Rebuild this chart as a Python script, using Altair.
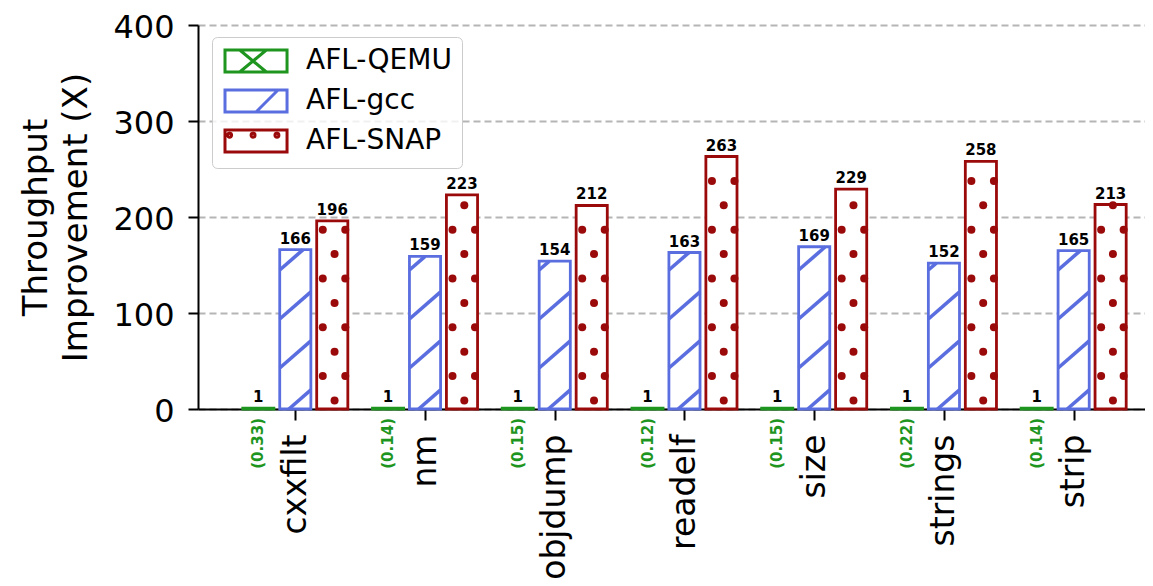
import json
import altair as alt
import pandas as pd

# ---------------- data ----------------
programs = ["cxxfilt", "nm", "objdump", "readelf", "size", "strings", "strip"]
series = ["AFL-QEMU", "AFL-gcc", "AFL-SNAP"]
qemu = [1, 1, 1, 1, 1, 1, 1]
gcc = [166, 159, 154, 163, 169, 152, 165]
snap = [196, 223, 212, 263, 229, 258, 213]
qemu_raw = ["(0.33)", "(0.14)", "(0.15)", "(0.12)", "(0.15)", "(0.22)", "(0.14)"]

# ---------------- style / layout ----------------
colors = ["#1e951e", "#5b6ee0", "#9b0a0a"]
offsets = [-0.285, 0.0, 0.285]
BAR_W = 0.24
W, H = 947, 384
X_DOM = [-0.75, 6.55]
Y_DOM = [0, 400]
PX_X = W / (X_DOM[1] - X_DOM[0])
PX_Y = H / (Y_DOM[1] - Y_DOM[0])
FONT = "DejaVu Sans"

values = {"AFL-QEMU": qemu, "AFL-gcc": gcc, "AFL-SNAP": snap}

bar_rows = []
for s_i, s in enumerate(series):
    for i, p in enumerate(programs):
        v = values[s][i]
        c = i + offsets[s_i]
        bar_rows.append(dict(program=p, series=s, value=v, base=0, cx=c,
                             x1=c - BAR_W / 2, x2=c + BAR_W / 2,
                             label=str(v)))
bars = pd.DataFrame(bar_rows)

# hatch lines for AFL-gcc ("/" pattern)
SLOPE, SPACING, START = 0.87, 49.0, -8.0
hatch_rows = []
for i, v in enumerate(gcc):
    left = i + offsets[1] - BAR_W / 2
    wpx = BAR_W * PX_X
    hpx = v * PX_Y
    k = 0
    while START + SPACING * k < hpx:
        c = START + SPACING * k
        xs_ = max(0.0, -c / SLOPE)
        xe_ = min(wpx, (hpx - c) / SLOPE)
        if xs_ < xe_:
            hatch_rows.append(dict(hx=left + xs_ / PX_X, hx2=left + xe_ / PX_X,
                                   hy=(c + SLOPE * xs_) / PX_Y,
                                   hy2=(c + SLOPE * xe_) / PX_Y))
        k += 1
hatch = pd.DataFrame(hatch_rows)

# dot pattern for AFL-SNAP
dot_rows = []
for i, v in enumerate(snap):
    cx = i + offsets[2]
    hpx = v * PX_Y
    k = 0
    while 8.5 + 24.4 * k < hpx:
        ypx = 8.5 + 24.4 * k
        xs = [2.3] if k % 2 == 0 else [-9.5, 13.0]
        for dx in xs:
            dot_rows.append(dict(dx=cx + dx / PX_X, dy=ypx / PX_Y))
        k += 1
dots = pd.DataFrame(dot_rows)

raw = pd.DataFrame(dict(cx=[i + offsets[0] for i in range(len(programs))],
                        zero=[0] * len(programs), text=qemu_raw))

# ---------------- scales ----------------
xs = alt.Scale(domain=X_DOM, nice=False, zero=False, padding=0)
ys = alt.Scale(domain=Y_DOM, nice=False, padding=0)
cscale = alt.Scale(domain=series, range=colors)
rect = "M-1,-1H4.64V1H-1Z"
def circ(x, y, r=0.18):
    return f"M{x - r},{y}a{r},{r} 0 1,0 {2 * r},0a{r},{r} 0 1,0 {-2 * r},0"
shapes = [
    rect + "M0.34,-1L2.76,1M0.34,1L2.76,-1",
    rect + "M1.82,1L3.82,-1",
    rect + circ(-0.58, -0.53) + circ(1.55, -0.53) + circ(3.72, -0.53),
]
sscale = alt.Scale(domain=series, range=shapes)

leg = alt.Legend(title=None, orient="none", legendX=14, legendY=12,
                 labelFont=FONT, labelFontSize=28, labelColor="black",
                 symbolSize=484, symbolStrokeWidth=3, symbolOpacity=1,
                 symbolFillColor="white",
                 padding=10, rowPadding=6, labelOffset=56,
                 strokeColor="#cccccc", fillColor="rgba(255,255,255,0.8)",
                 cornerRadius=5)

x_axis = alt.Axis(values=list(range(len(programs))),
                  labelExpr=json.dumps(programs) + "[datum.value]",
                  labelAngle=270, labelFont=FONT, labelFontSize=33,
                  labelColor="black", labelPadding=14, tickSize=11,
                  tickWidth=2, tickColor="black", domainColor="black",
                  domainWidth=2, grid=False, title=None)
y_axis = alt.Axis(values=[0, 100, 200, 300, 400],
                  title=["Throughput", "Improvement (X)"],
                  titleFont=FONT, titleFontSize=34, titleFontWeight="normal",
                  titleColor="black", titleLineHeight=40, titlePadding=19,
                  labelFont=FONT, labelFontSize=32, labelColor="black",
                  labelPadding=14, labelOffset=2, tickSize=10, tickWidth=2,
                  tickColor="black", domainColor="black", domainWidth=2,
                  grid=True, gridColor="#b5b5b5", gridDash=[7, 4],
                  gridWidth=1.8)

X = alt.X("x1:Q", scale=xs, axis=x_axis)
Y = alt.Y("value:Q", scale=ys, axis=y_axis)

base_fill = alt.Chart(bars).mark_bar(fill="white", strokeWidth=0).encode(
    x=X, x2="x2:Q", y=Y, y2="base:Q")

hatch_layer = alt.Chart(hatch).mark_rule(color=colors[1], strokeWidth=3.6,
                                         strokeCap="butt").encode(
    x=alt.X("hx:Q", scale=xs, axis=x_axis), x2="hx2:Q",
    y=alt.Y("hy:Q", scale=ys, axis=y_axis), y2="hy2:Q")

dot_layer = alt.Chart(dots).mark_point(filled=True, shape="circle", size=64,
                                       color=colors[2], opacity=1).encode(
    x=alt.X("dx:Q", scale=xs, axis=x_axis),
    y=alt.Y("dy:Q", scale=ys, axis=y_axis))

outline = alt.Chart(bars).mark_bar(fill="transparent", strokeWidth=2.8).encode(
    x=X, x2="x2:Q", y=Y, y2="base:Q",
    stroke=alt.Stroke("series:N", scale=cscale, legend=leg))

legend_layer = alt.Chart(bars).transform_filter("datum.value < 0").mark_point(
    filled=False, fill="transparent", opacity=1).encode(
    x=alt.X("cx:Q", scale=xs, axis=x_axis), y=Y,
    shape=alt.Shape("series:N", scale=sscale, legend=leg),
    stroke=alt.Stroke("series:N", scale=cscale, legend=leg))

value_text = alt.Chart(bars).mark_text(font=FONT, fontWeight="bold",
                                       fontSize=15, baseline="bottom", dy=-3,
                                       color="black").encode(
    x=alt.X("cx:Q", scale=xs, axis=x_axis), y=Y, text="label:N")

raw_text = alt.Chart(raw).mark_text(font=FONT, fontWeight="bold", fontSize=15,
                                    angle=270, align="right",
                                    baseline="middle", dx=-9,
                                    color="#1e951e").encode(
    x=alt.X("cx:Q", scale=xs, axis=x_axis),
    y=alt.Y("zero:Q", scale=ys, axis=y_axis), text="text:N")

chart = alt.layer(base_fill, hatch_layer, dot_layer, outline, legend_layer,
                  value_text, raw_text).properties(
    width=W, height=H,
    autosize=alt.AutoSizeParams(type="none"),
    padding={"left": 190, "top": 17, "right": 0, "bottom": 170},
).configure_view(strokeWidth=0)

chart.save("out.html", embed_options={"renderer": "svg", "actions": False})
